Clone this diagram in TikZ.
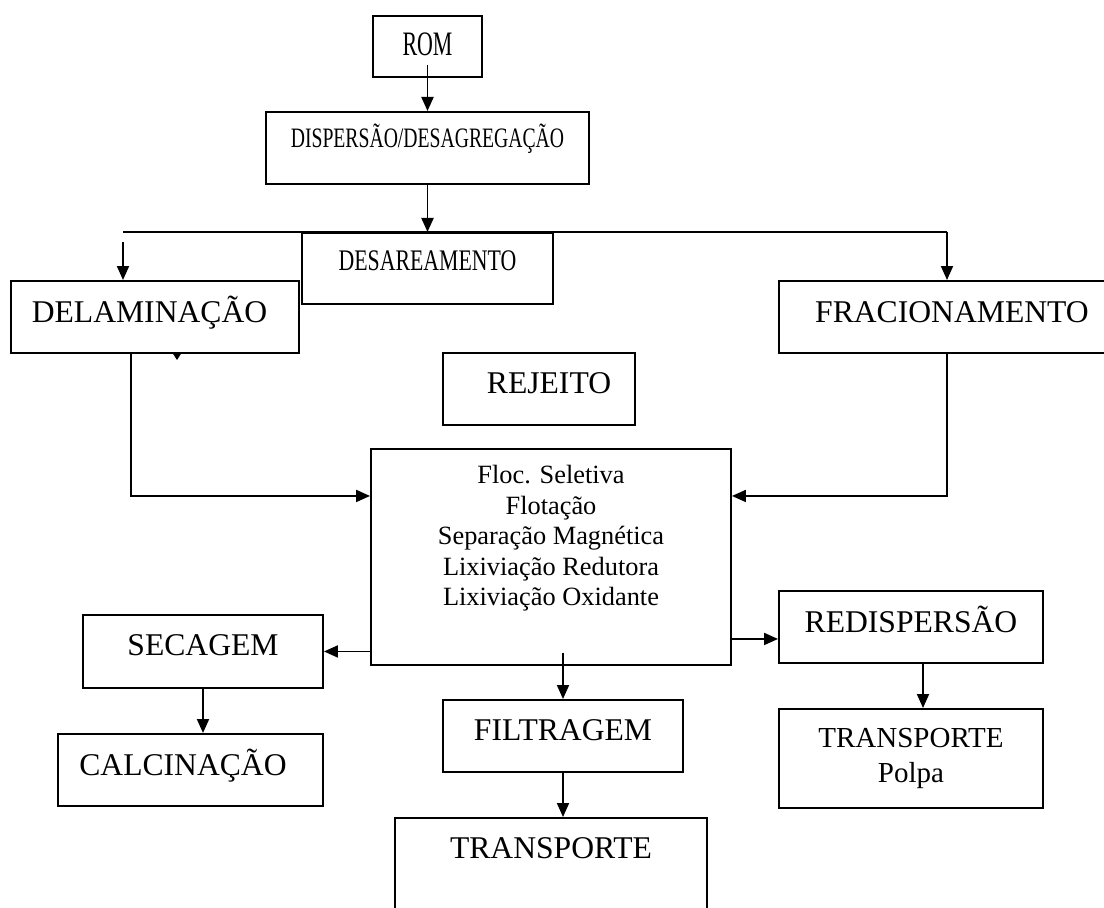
\documentclass[tikz,border=0pt]{standalone}
\usepackage{fontspec}
\setmainfont{Liberation Serif}
\usetikzlibrary{arrows.meta}

\tikzset{
    box/.style={draw, line width=1.1pt, anchor=north, inner xsep=0pt, inner ysep=0pt,
        font=\fontsize{18}{21}\selectfont},
    flow/.style={line width=1.1pt, -{Triangle[length=0.28cm,width=0.24cm]}},
    link/.style={line width=1.1pt},
}
\newcommand{\condensed}[2][0.69]{\scalebox{#1}[1]{#2}}

\begin{document}
\begin{tikzpicture}
    \useasboundingbox (0,0) rectangle (22.08,-18.16);
    \clip (0,0) rectangle (22.08,-18.16);

    % Top chain
    \node[box, minimum width=2.18cm, text height=0.80cm, text depth=0.42cm, font=\fontsize{19.5}{22}\selectfont] (rom) at (8.55,-0.30) {\condensed[0.64]{ROM}};
    \node[box, minimum width=6.46cm, text height=0.72cm, text depth=0.72cm, font=\fontsize{16}{19}\selectfont] (disp) at (8.55,-2.22) {\condensed[0.70]{DISPERSÃO/DESAGREGAÇÃO}};
    \node[box, minimum width=5.02cm, text height=0.76cm, text depth=0.66cm, font=\fontsize{17}{20}\selectfont] (desar) at (8.55,-4.64) {\condensed[0.73]{DESAREAMENTO}};

    % Side branches
    \node[box, minimum width=5.76cm, text height=0.84cm, text depth=0.60cm] (delam) at (3.10,-5.60) {DELAMINAÇÃO\hspace*{0.22cm}};
    \node[box, minimum width=6.92cm, text height=0.84cm, text depth=0.60cm] (frac) at (19.04,-5.60) {FRACIONAMENTO};
    \node[box, minimum width=3.84cm, text height=0.82cm, text depth=0.62cm] (rej) at (10.78,-7.04) {\hspace*{0.4cm}REJEITO};

    % Separation stage
    \node[box, minimum width=7.20cm, text height=0.70cm, text depth=3.62cm, font=\fontsize{15}{17.35}\selectfont] (sep) at (11.02,-8.96)
        {\begin{tabular}[t]{@{}c@{}}Floc. Seletiva\\Flotação\\Separação Magnética\\Lixiviação Redutora\\Lixiviação Oxidante\end{tabular}};

    % Products
    \node[box, minimum width=4.80cm, text height=0.82cm, text depth=0.64cm] (sec) at (4.06,-12.28) {SECAGEM};
    \node[box, minimum width=5.30cm, text height=0.84cm, text depth=0.60cm] (calc) at (3.81,-14.66) {CALCINAÇÃO\hspace*{0.3cm}};
    \node[box, minimum width=4.80cm, text height=0.82cm, text depth=0.62cm] (filt) at (11.26,-13.98) {FILTRAGEM};
    \node[box, minimum width=6.24cm, text height=0.82cm, text depth=2.04cm] (transp) at (11.02,-16.34) {TRANSPORTE};
    \node[box, minimum width=5.28cm, text height=0.84cm, text depth=0.60cm] (redisp) at (18.22,-11.80) {REDISPERSÃO};
    \node[box, minimum width=5.28cm, text height=0.78cm, text depth=1.20cm, font=\fontsize{16.5}{19.9}\selectfont] (polpa) at (18.22,-14.16)
        {\begin{tabular}[t]{@{}c@{}}TRANSPORTE\\Polpa\end{tabular}};

    % Connectors
    \draw[flow] (rom.south) ++(0,0.26) -- (disp.north);
    \draw[flow] (disp.south) -- (desar.north);

    \coordinate (splitL) at (2.46,-4.64);
    \coordinate (splitR) at (18.94,-4.64);
    \draw[link] (splitL) -- (splitR);
    \draw[flow] (splitR) -- (splitR |- frac.north);
    \draw[flow] (splitL) ++(0,-0.2) -- (splitL |- delam.north);
    \fill (3.45,-7.06) -- (3.63,-7.06) -- (3.54,-7.20) -- cycle;

    \draw[flow] ([xshift=-0.48cm]delam.south) |- ([yshift=1.22cm]sep.west);
    \draw[flow] ([xshift=-0.10cm]frac.south) |- ([yshift=1.22cm]sep.east);

    \draw[flow] (sep.west |- sec.east) -- (sec.east);
    \draw[flow] ([yshift=-1.64cm]sep.east) -- ([yshift=-0.24cm]redisp.west);
    \draw[flow] (filt.north |- sep.south) ++(0,0.26) -- (filt.north);

    \draw[flow] (sec.south) -- (sec.south |- calc.north);
    \draw[flow] (filt.south) -- (filt.south |- transp.north);
    \draw[flow] ([xshift=0.24cm]redisp.south) -- ([xshift=0.24cm]polpa.north);
\end{tikzpicture}
\end{document}
